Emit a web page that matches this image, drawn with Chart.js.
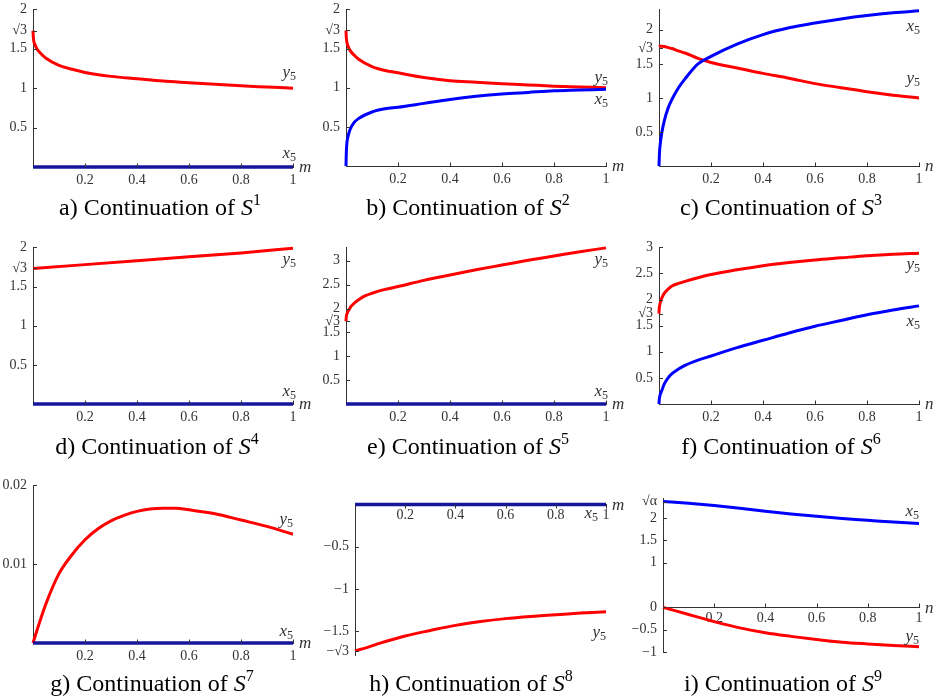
<!DOCTYPE html>
<html><head><meta charset="utf-8">
<script src="https://cdn.jsdelivr.net/npm/chart.js@4/dist/chart.umd.min.js"></script>
<style>
body{margin:0;background:#fff;width:933px;height:700px;position:relative;overflow:hidden;font-family:'Liberation Serif',serif}
canvas{position:absolute}
.cap{position:absolute;font-size:24px;white-space:nowrap;transform:translateX(-50%);line-height:1;color:#000}
.cap i{font-style:italic}
.cap sup{font-size:16px;vertical-align:0;position:relative;top:-10px}
</style></head><body>
<script>
// ---------- data ----------
const SQ3 = 1.732, SQA = 2.37;
const xTickVals = [0.2,0.4,0.6,0.8,1];
const xTickText = ['0.2','0.4','0.6','0.8','1'];

const zeroX = [0,1];
const zeroY = [0,0];

const xs_a = [0,0.001,0.003,0.008,0.015,0.03,0.05,0.1,0.15,0.2,0.3,0.4,0.5,0.6,0.7,0.8,0.9,1];
const y5_a = [1.73,1.66,1.6,1.55,1.5,1.44,1.38,1.29,1.24,1.2,1.15,1.12,1.09,1.07,1.05,1.03,1.015,1.0];

const xs_b = [0,0.001,0.003,0.008,0.015,0.03,0.05,0.1,0.15,0.2,0.3,0.4,0.5,0.6,0.7,0.8,0.9,1];
const y5_b = [1.73,1.65,1.59,1.53,1.48,1.42,1.36,1.27,1.22,1.19,1.13,1.09,1.07,1.05,1.035,1.02,1.01,1.0];
const x5_b = [0,0.15,0.28,0.38,0.46,0.55,0.61,0.69,0.73,0.75,0.8,0.85,0.89,0.92,0.94,0.96,0.97,0.98];

const xs_c = [0,0.002,0.005,0.01,0.02,0.035,0.05,0.075,0.1,0.15,0.2,0.3,0.4,0.5,0.6,0.7,0.8,0.9,1];
const x5_c = [0,0.2,0.33,0.47,0.66,0.85,0.98,1.15,1.28,1.5,1.61,1.79,1.93,2.03,2.1,2.16,2.21,2.25,2.28];
const y5_c = [1.75,1.755,1.76,1.76,1.755,1.74,1.725,1.69,1.66,1.58,1.52,1.44,1.36,1.29,1.21,1.15,1.09,1.04,1.0];

const xs_d = [0,0.2,0.4,0.6,0.8,1];
const y5_d = [1.73,1.78,1.83,1.88,1.93,1.99];

const xs_e = [0,0.001,0.003,0.006,0.01,0.02,0.035,0.05,0.075,0.1,0.15,0.2,0.3,0.4,0.5,0.6,0.7,0.8,0.9,1];
const y5_e = [1.73,1.82,1.88,1.92,1.96,2.05,2.13,2.19,2.27,2.32,2.4,2.46,2.59,2.7,2.81,2.91,3.01,3.1,3.19,3.27];

const xs_f = [0,0.001,0.003,0.006,0.01,0.02,0.035,0.05,0.075,0.1,0.15,0.2,0.3,0.4,0.5,0.6,0.7,0.8,0.9,1];
const y5_f = [1.73,1.83,1.9,1.96,2.02,2.12,2.2,2.26,2.31,2.35,2.42,2.48,2.57,2.65,2.71,2.76,2.8,2.84,2.87,2.89];
const x5_f = [0,0.08,0.15,0.2,0.25,0.38,0.5,0.58,0.67,0.74,0.84,0.92,1.08,1.22,1.36,1.49,1.6,1.71,1.8,1.88];

const xs_g = [0,0.02,0.05,0.1,0.15,0.2,0.25,0.3,0.35,0.4,0.45,0.5,0.55,0.6,0.7,0.8,0.9,1];
const y5_g = [0,0.0021,0.005,0.0088,0.0112,0.0131,0.0145,0.0155,0.0162,0.0167,0.017,0.0171,0.0171,0.0169,0.0164,0.0156,0.0148,0.0138];

const xs_h = [0,0.05,0.1,0.2,0.3,0.4,0.5,0.6,0.7,0.8,0.9,1];
const y5_h = [-1.73,-1.69,-1.64,-1.555,-1.49,-1.43,-1.385,-1.35,-1.325,-1.305,-1.285,-1.27];

const xs_i = [0,0.1,0.2,0.3,0.4,0.5,0.6,0.7,0.8,0.9,1];
const x5_i = [2.37,2.33,2.28,2.22,2.15,2.09,2.04,1.99,1.95,1.91,1.88];
const y5_i = [0,-0.16,-0.32,-0.46,-0.57,-0.65,-0.72,-0.78,-0.82,-0.855,-0.88];

const yT_std = [0.5,1,1.5,SQ3,2];
const yL_std = ['0.5','1','1.5','√3','2'];
const yT_ef = [0.5,1,1.5,SQ3,2,2.5,3];
const yL_ef = ['0.5','1','1.5','√3','2','2.5','3'];
const yT_g = [0.01,0.02];
const yL_g = ['0.01','0.02'];
const yT_h = [-SQ3,-1.5,-1,-0.5];
const yL_h = ['−√3','−1.5','−1','−0.5'];
const yT_i = [-1,-0.5,0,1,1.5,2,SQA];
const yL_i = ['−1','−0.5','0','1','1.5','2','√α'];

const captions = ['a','b','c','d','e','f','g','h','i'];

// ---------- drawing ----------
const RED = '#ff0000', BLUE = '#0000ff', NAVY = '#16169c';
const pts = (xs, ys) => xs.map((x,i)=>({x, y: ys[i]}));

const labelPlugin = {
  id: 'lbl',
  afterDatasetsDraw(chart, args, opts){
    const ctx = chart.ctx, xs = chart.scales.x, ys = chart.scales.y;
    ctx.save();
    ctx.strokeStyle = '#333'; ctx.lineWidth = 1;
    const ay = Math.round(ys.getPixelForValue(0)) + 0.5;
    const dir = opts.tickUp === false ? 1 : -1;
    xTickVals.forEach(v => {
      const px = Math.round(xs.getPixelForValue(v)) + 0.5;
      ctx.beginPath(); ctx.moveTo(px, ay); ctx.lineTo(px, ay + dir*4); ctx.stroke();
    });
    const lx = chart.chartArea.left;
    (opts.yt || []).forEach(v => {
      const py = Math.round(ys.getPixelForValue(v)) + 0.5;
      ctx.beginPath(); ctx.moveTo(lx, py); ctx.lineTo(lx + 4, py); ctx.stroke();
    });
    ctx.fillStyle = '#333';
    ctx.textBaseline = 'alphabetic';
    (opts.items || []).forEach(it => {
      const px = xs.getPixelForValue(it.x), py = ys.getPixelForValue(it.y);
      ctx.font = 'italic 17px "Liberation Serif"';
      const w1 = ctx.measureText(it.t).width;
      ctx.font = '12px "Liberation Serif"';
      const w2 = ctx.measureText(it.s).width;
      const x0 = px - w1 - w2;
      ctx.font = 'italic 17px "Liberation Serif"';
      ctx.fillText(it.t, x0, py + 4);
      ctx.font = '12px "Liberation Serif"';
      ctx.fillText(it.s, x0 + w1, py + 7);
    });
    if (opts.axis) {
      ctx.font = 'italic 17px "Liberation Serif"';
      ctx.textBaseline = 'middle';
      ctx.fillText(opts.axis, chart.chartArea.right + 6, ys.getPixelForValue(0) + 1);
    }
    ctx.restore();
  }
};

function makePanel(p){
  const padL = 45, padT = 12, padR = 30, padB = 32;
  const cv = document.createElement('canvas');
  const W = (p.R - p.L) + padL + padR, H = (p.B - p.T) + padT + padB;
  cv.width = W; cv.height = H;
  cv.style.left = (p.L - padL) + 'px'; cv.style.top = (p.T - padT) + 'px';
  cv.style.width = W + 'px'; cv.style.height = H + 'px';
  document.body.appendChild(cv);
  const tickFont = {family: 'Liberation Serif', size: 14};
  const floating = !!p.xAtZero;
  const xScale = {
    type: 'linear', min: 0, max: 1,
    grid: {display: false, drawTicks: false},
    border: {display: true, color: '#333', width: 1},
    afterBuildTicks: s => { s.ticks = xTickVals.map(v => ({value: v})); },
    ticks: {autoSkip: false, maxRotation: 0, padding: p.xPad || 5, color: '#333', font: tickFont,
      callback: (v, i) => xTickText[i]}
  };
  if (floating) xScale.position = {y: 0};
  else xScale.afterFit = s => { s.height = padB; };
  const yScale = {
    type: 'linear', min: p.ymin, max: p.ymax,
    grid: {display: false, drawTicks: false},
    border: {display: true, color: '#333', width: 1},
    afterBuildTicks: s => { s.ticks = p.yt.map(v => ({value: v})); },
    afterFit: s => { s.width = padL; },
    ticks: {autoSkip: false, padding: 6, color: '#333', font: tickFont,
      callback: (v, i) => p.yl[i]}
  };
  new Chart(cv, {
    type: 'scatter',
    data: {datasets: p.sets.map(d => ({
      data: d.data, showLine: true, borderColor: d.c, backgroundColor: d.c,
      borderWidth: d.w || 3, pointRadius: 0, clip: false,
      cubicInterpolationMode: 'monotone', borderCapStyle: 'butt'
    }))},
    options: {
      responsive: false, animation: false, devicePixelRatio: 1,
      layout: {padding: {left: 0, top: padT, right: padR, bottom: floating ? padB : 0}},
      scales: {x: xScale, y: yScale},
      plugins: {legend: {display: false}, tooltip: {enabled: false},
        lbl: {items: p.items, axis: p.axis, yt: p.yt, tickUp: p.tickUp}}
    },
    plugins: [labelPlugin]
  });
}

const panels = [
  {L:33,R:293,T:7,B:167,ymin:0,ymax:2,yt:yT_std,yl:yL_std,axis:'m',
   sets:[{data:pts(zeroX,zeroY),c:NAVY,w:3.5},{data:pts(xs_a,y5_a),c:RED}],
   items:[{t:'y',s:'5',x:1.012,y:1.19},{t:'x',s:'5',x:1.012,y:0.16}]},
  {L:346,R:606,T:7,B:166,ymin:0,ymax:2,yt:yT_std,yl:yL_std,axis:'m',
   sets:[{data:pts(xs_b,x5_b),c:BLUE},{data:pts(xs_b,y5_b),c:RED}],
   items:[{t:'y',s:'5',x:1.008,y:1.13},{t:'x',s:'5',x:1.008,y:0.84}]},
  {L:659,R:919,T:7,B:166,ymin:0,ymax:2.3,yt:yT_std,yl:yL_std,axis:'n',
   sets:[{data:pts(xs_c,x5_c),c:BLUE},{data:pts(xs_c,y5_c),c:RED}],
   items:[{t:'x',s:'5',x:1.004,y:2.04},{t:'y',s:'5',x:1.004,y:1.28}]},
  {L:33,R:293,T:245,B:404,ymin:0,ymax:2,yt:yT_std,yl:yL_std,axis:'m',
   sets:[{data:pts(zeroX,zeroY),c:NAVY,w:3.5},{data:pts(xs_d,y5_d),c:RED}],
   items:[{t:'y',s:'5',x:1.012,y:1.84},{t:'x',s:'5',x:1.012,y:0.15}]},
  {L:346,R:606,T:245,B:404,ymin:0,ymax:3.28,yt:yT_ef,yl:yL_ef,axis:'m',
   sets:[{data:pts(zeroX,zeroY),c:NAVY,w:3.5},{data:pts(xs_e,y5_e),c:RED}],
   items:[{t:'y',s:'5',x:1.008,y:3.01},{t:'x',s:'5',x:1.008,y:0.25}]},
  {L:659,R:919,T:245,B:404,ymin:0,ymax:3,yt:yT_ef,yl:yL_ef,axis:'n',
   sets:[{data:pts(xs_f,x5_f),c:BLUE},{data:pts(xs_f,y5_f),c:RED}],
   items:[{t:'y',s:'5',x:1.004,y:2.66},{t:'x',s:'5',x:1.004,y:1.58}]},
  {L:33,R:293,T:483,B:643,ymin:0,ymax:0.02,yt:yT_g,yl:yL_g,axis:'m',
   sets:[{data:pts(zeroX,zeroY),c:NAVY,w:3.5},{data:pts(xs_g,y5_g),c:RED}],
   items:[{t:'y',s:'5',x:1.0,y:0.0156},{t:'x',s:'5',x:1.0,y:0.0014}]},
  {L:355,R:606,T:502,B:655,ymin:-1.78,ymax:0,yt:yT_h,yl:yL_h,axis:'m',xAtZero:true,xPad:3,tickUp:false,
   sets:[{data:pts(zeroX,zeroY),c:NAVY,w:3.5},{data:pts(xs_h,y5_h),c:RED}],
   items:[{t:'x',s:'5',x:0.968,y:-0.116},{t:'y',s:'5',x:1.0,y:-1.52}]},
  {L:663,R:919,T:496,B:652,ymin:-1,ymax:2.44,yt:yT_i,yl:yL_i,axis:'n',xAtZero:true,xPad:3,
   sets:[{data:pts(xs_i,x5_i),c:BLUE},{data:pts(xs_i,y5_i),c:RED}],
   items:[{t:'x',s:'5',x:1.0,y:2.14},{t:'y',s:'5',x:1.0,y:-0.67}]}
];
panels.forEach(makePanel);

// captions
const capCx = [160,468,781,157,468,781,152,471,783];
const capTop = [195,195,195,434,434,434,671,671,671];
captions.forEach((c, i) => {
  const d = document.createElement('div');
  d.className = 'cap';
  d.style.left = capCx[i] + 'px';
  d.style.top = capTop[i] + 'px';
  d.innerHTML = c + ') Continuation of <i>S</i><sup>' + (i + 1) + '</sup>';
  document.body.appendChild(d);
});
</script>
</body></html>
